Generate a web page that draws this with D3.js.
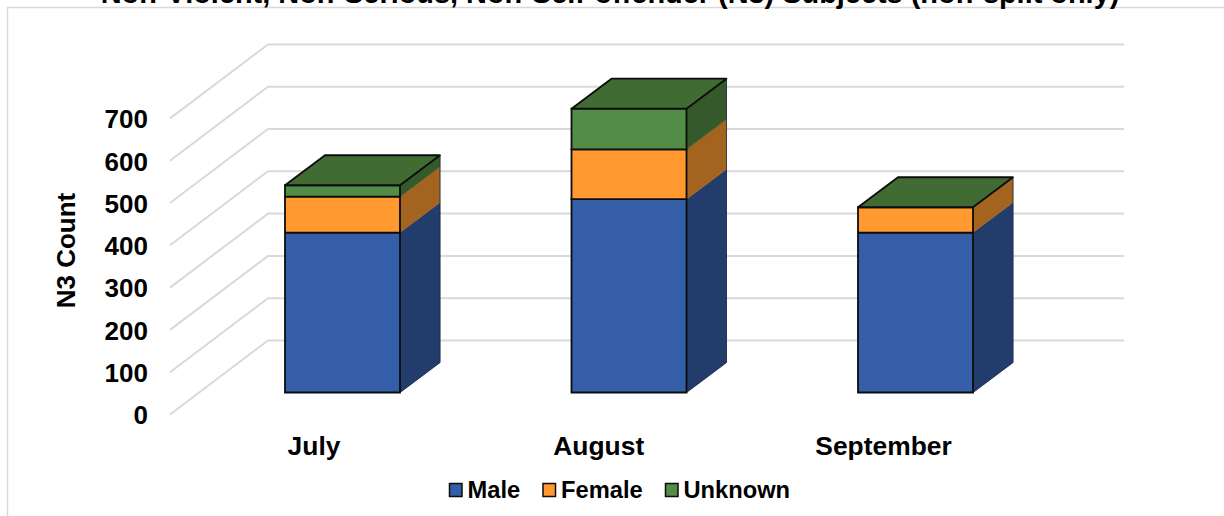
<!DOCTYPE html>
<html><head><meta charset="utf-8">
<script src="https://cdn.jsdelivr.net/npm/d3@7"></script>
<style>html,body{margin:0;padding:0;background:#fff;overflow:hidden}text{font-family:"Liberation Sans",Arial,sans-serif;font-weight:bold;fill:#000}</style>
</head><body><svg id="c" width="1224" height="516"></svg>
<script>
const titleText = "Non-Violent, Non-Serious, Non-Self-offender (N3) Subjects (non-split only)";
const yAxisTitle = "N3 Count";
const categories = ["July","August","September"];
const seriesNames = ["Male","Female","Unknown"];
const male = [378,457,378];
const female = [85,118,60];
const unknown = [27,96,0];
const yTicks = [0,100,200,300,400,500,600,700];
const frontColors = ["#345ea8","#ff9930","#538c46"];
const sideColors = ["#223c6b","#a36420","#35592a"];
const topColor = "#406b33";

const svg = d3.select("#c");
const W = 1224, H = 516;
const depthX = 40, depthY = -30;
const y = d3.scaleLinear().domain([0,700]).range([392.5,96.4]);
const x = d3.scaleBand().domain(categories).range([285,973]).paddingInner(1-115/286.5).paddingOuter(0);
const labelX = d3.scalePoint().domain(categories).range([314,883.5]);

svg.append("path").attr("d",d3.line()([[W,7.5],[7.5,7.5],[7.5,H]])).attr("fill","none").attr("stroke","#d9d9d9").attr("stroke-width",1.5);

svg.append("text").attr("x",610).attr("y",3).attr("text-anchor","middle").attr("font-size",28.9).text(titleText);

const gridG = svg.append("g");
gridG.selectAll("path").data(yTicks).join("path")
  .attr("d",d=>d3.line()([[170,y(d)+22],[268,y(d)-52],[1124,y(d)-52]]))
  .attr("fill","none").attr("stroke","#d9d9d9").attr("stroke-width",2);

const yLab = d3.scaleLinear().domain(y.domain()).range(y.range().map(v=>v+23));
const axG = svg.append("g").attr("transform","translate(148,0)")
  .call(d3.axisLeft(yLab).tickValues(yTicks).tickSize(0).tickPadding(0).tickFormat(d3.format("d")));
axG.select(".domain").remove();
axG.selectAll("text").attr("font-size",26).attr("font-family",null).style("font-family",'"Liberation Sans"').style("font-weight","bold").attr("fill","#000");

svg.append("text").attr("transform","translate(75,250.5) rotate(-90)").attr("text-anchor","middle").attr("font-size",26).text(yAxisTitle);

const rows = categories.map((c,i)=>({cat:c,Male:male[i],Female:female[i],Unknown:unknown[i]}));
const stacked = d3.stack().keys(seriesNames)(rows);
const bars = svg.append("g");
const poly = pts => d3.line()(pts)+"Z";
stacked.forEach((layer,si)=>{
  layer.forEach((seg,ci)=>{
    const x1 = x(categories[ci]) + x.bandwidth();
    const yb = y(seg[0]), yt = y(seg[1]);
    if(seg[1]-seg[0] <= 0) return;
    bars.append("path").attr("d",poly([[x1,yb],[x1+depthX,yb+depthY],[x1+depthX,yt+depthY],[x1,yt]]))
      .attr("fill",sideColors[si]).attr("stroke",sideColors[si]).attr("stroke-width",0.5);
  });
});
stacked.forEach((layer,si)=>{
  layer.forEach((seg,ci)=>{
    const x0 = x(categories[ci]), x1 = x0 + x.bandwidth();
    const yb = y(seg[0]), yt = y(seg[1]);
    if(seg[1]-seg[0] <= 0) return;
    bars.append("path").attr("d",poly([[x0,yb],[x1,yb],[x1,yt],[x0,yt]]))
      .attr("fill",frontColors[si]).attr("stroke","#0c0c0c").attr("stroke-width",1.8);
  });
});
categories.forEach((cat,ci)=>{
  const x0 = x(cat), x1 = x0 + x.bandwidth();
  const total = stacked[2][ci][1], yt = y(total), yb = y(0);
  bars.append("path").attr("d",poly([[x0,yt],[x1,yt],[x1+depthX,yt+depthY],[x0+depthX,yt+depthY]]))
    .attr("fill",topColor).attr("stroke","#0c0c0c").attr("stroke-width",1.8).attr("stroke-linejoin","round");
  bars.append("path").attr("d",d3.line()([[x1,yb],[x1+depthX,yb+depthY],[x1+depthX,yt+depthY]]))
    .attr("fill","none").attr("stroke","#1a2a45").attr("stroke-width",0.8);
});

svg.append("g").selectAll("text").data(categories).join("text")
  .attr("x",d=>labelX(d)).attr("y",455).attr("text-anchor","middle").attr("font-size",26.4).text(d=>d);

const legendX = d3.scaleOrdinal().domain(seriesNames).range([449.5,543,665.5]);
const lg = svg.append("g").selectAll("g").data(seriesNames).join("g").attr("transform",d=>`translate(${legendX(d)},0)`);
lg.append("rect").attr("x",0).attr("y",483.5).attr("width",12.5).attr("height",13).attr("fill",(d,i)=>frontColors[i]).attr("stroke","#0c0c0c").attr("stroke-width",1.5);
lg.append("text").attr("x",18).attr("y",497.5).attr("font-size",23.7).text(d=>d);
</script></body></html>
